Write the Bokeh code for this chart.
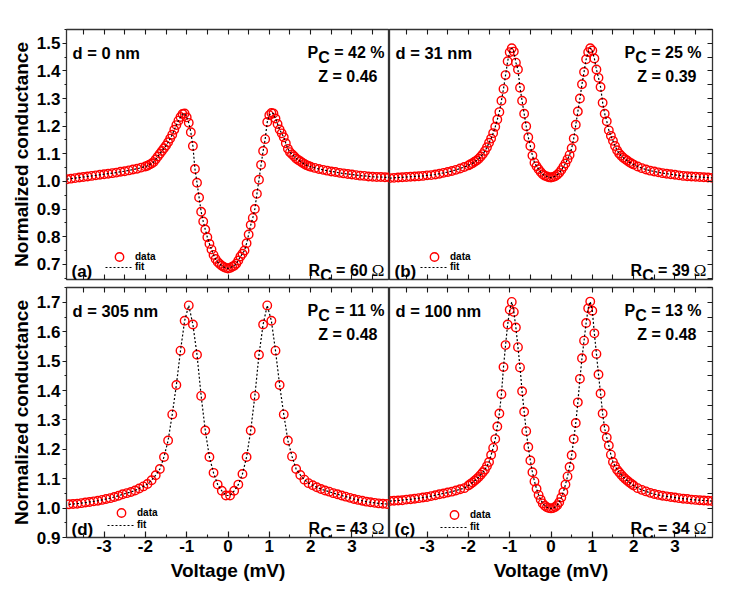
from bokeh.plotting import figure
from bokeh.models import (Range1d, LinearAxis, Label, Legend, LegendItem,
                          FixedTicker, PrintfTickFormatter)
from bokeh.layouts import column, row
from bokeh.embed import file_html
from bokeh.resources import INLINE

# ---------------- data ----------------
volt_abc = [-3.9, -3.8, -3.7, -3.6, -3.5, -3.4, -3.3, -3.2, -3.1, -3.0,
            -2.9, -2.8, -2.7, -2.6, -2.5, -2.4, -2.3, -2.2, -2.1,
            -2.0, -1.95, -1.9, -1.85, -1.8, -1.75, -1.7, -1.65, -1.6, -1.55,
            -1.5, -1.45, -1.4, -1.35, -1.3, -1.25, -1.2, -1.15, -1.1, -1.05,
            -1.0, -0.95, -0.9, -0.85, -0.8, -0.75, -0.7, -0.65, -0.6, -0.55,
            -0.5, -0.45, -0.4, -0.35, -0.3, -0.25, -0.2, -0.15, -0.1, -0.05,
            0.0,
            0.05, 0.1, 0.15, 0.2, 0.25, 0.3, 0.35, 0.4, 0.45, 0.5,
            0.55, 0.6, 0.65, 0.7, 0.75, 0.8, 0.85, 0.9, 0.95, 1.0,
            1.05, 1.1, 1.15, 1.2, 1.25, 1.3, 1.35, 1.4, 1.45, 1.5,
            1.55, 1.6, 1.65, 1.7, 1.75, 1.8, 1.85, 1.9, 1.95, 2.0,
            2.1, 2.2, 2.3, 2.4, 2.5, 2.6, 2.7, 2.8, 2.9, 3.0,
            3.1, 3.2, 3.3, 3.4, 3.5, 3.6, 3.7, 3.8, 3.9]

cond_a = [1.008, 1.010, 1.012, 1.014, 1.016, 1.018, 1.020, 1.022, 1.024, 1.026,
          1.028, 1.030, 1.032, 1.035, 1.037, 1.040, 1.043, 1.046, 1.050,
          1.054, 1.057, 1.061, 1.065, 1.070, 1.080, 1.090, 1.100, 1.110, 1.120,
          1.130, 1.142, 1.155, 1.169, 1.187, 1.204, 1.220, 1.233, 1.244, 1.246,
          1.232, 1.212, 1.178, 1.128, 1.045, 0.995, 0.942, 0.890, 0.855, 0.826,
          0.798, 0.774, 0.754, 0.734, 0.719, 0.708, 0.701, 0.695, 0.690, 0.687,
          0.685,
          0.687, 0.691, 0.695, 0.702, 0.714, 0.728, 0.738, 0.750, 0.776, 0.808,
          0.842, 0.868, 0.900, 0.955, 1.006, 1.060, 1.110, 1.153, 1.215, 1.240,
          1.248, 1.246, 1.228, 1.208, 1.188, 1.174, 1.160, 1.138, 1.118, 1.106,
          1.098, 1.091, 1.083, 1.078, 1.073, 1.068, 1.063, 1.059, 1.056, 1.053,
          1.049, 1.045, 1.042, 1.039, 1.036, 1.034, 1.031, 1.029, 1.027, 1.025,
          1.023, 1.021, 1.020, 1.018, 1.017, 1.016, 1.016, 1.015, 1.015]

cond_b = [1.012, 1.013, 1.014, 1.015, 1.016, 1.017, 1.018, 1.019, 1.020, 1.022,
          1.023, 1.025, 1.028, 1.031, 1.034, 1.038, 1.042, 1.047, 1.052,
          1.058, 1.062, 1.066, 1.071, 1.076, 1.082, 1.090, 1.099, 1.110, 1.124,
          1.140, 1.155, 1.175, 1.198, 1.224, 1.251, 1.292, 1.335, 1.385, 1.435,
          1.468, 1.482, 1.470, 1.430, 1.405, 1.339, 1.292, 1.245, 1.200, 1.160,
          1.128, 1.094, 1.068, 1.055, 1.044, 1.034, 1.026, 1.021, 1.018, 1.015,
          1.014,
          1.016, 1.019, 1.024, 1.031, 1.041, 1.053, 1.065, 1.080, 1.096, 1.120,
          1.155, 1.205, 1.253, 1.300, 1.352, 1.396, 1.442, 1.468, 1.482, 1.474,
          1.445, 1.405, 1.375, 1.342, 1.285, 1.245, 1.218, 1.185, 1.165, 1.147,
          1.128, 1.113, 1.101, 1.093, 1.086, 1.080, 1.075, 1.069, 1.065, 1.061,
          1.054, 1.048, 1.043, 1.039, 1.036, 1.033, 1.030, 1.028, 1.026, 1.024,
          1.022, 1.020, 1.019, 1.018, 1.017, 1.016, 1.015, 1.014, 1.013]

cond_c = [1.024, 1.025, 1.026, 1.027, 1.029, 1.030, 1.032, 1.034, 1.036, 1.038,
          1.041, 1.044, 1.047, 1.050, 1.053, 1.056, 1.060, 1.064, 1.068,
          1.077, 1.082, 1.087, 1.093, 1.099, 1.106, 1.114, 1.122, 1.131, 1.143,
          1.157, 1.181, 1.205, 1.235, 1.278, 1.322, 1.388, 1.480, 1.555, 1.625,
          1.675, 1.702, 1.668, 1.615, 1.548, 1.479, 1.398, 1.328, 1.262, 1.208,
          1.162, 1.122, 1.091, 1.066, 1.045, 1.029, 1.016, 1.008, 1.003, 1.000,
          0.999,
          1.000, 1.004, 1.010, 1.020, 1.036, 1.055, 1.080, 1.108, 1.140, 1.180,
          1.235, 1.290, 1.360, 1.440, 1.510, 1.570, 1.630, 1.680, 1.703, 1.672,
          1.595, 1.525, 1.455, 1.390, 1.322, 1.270, 1.240, 1.213, 1.182, 1.157,
          1.143, 1.131, 1.122, 1.114, 1.106, 1.099, 1.093, 1.087, 1.082, 1.077,
          1.068, 1.062, 1.057, 1.052, 1.048, 1.045, 1.042, 1.040, 1.038, 1.036,
          1.034, 1.032, 1.031, 1.029, 1.028, 1.027, 1.026, 1.025, 1.024]

volt_d = [-3.85, -3.75, -3.65, -3.55, -3.45, -3.35, -3.25, -3.15, -3.05, -2.95,
          -2.85, -2.75, -2.65, -2.55, -2.45, -2.35, -2.25, -2.15, -2.05,
          -1.95, -1.85, -1.75, -1.65, -1.55, -1.45, -1.35, -1.25, -1.15, -1.05,
          -0.95, -0.85, -0.75, -0.65, -0.55, -0.45, -0.35, -0.25, -0.15, -0.05,
          0.05, 0.15, 0.25, 0.35, 0.45, 0.55, 0.65, 0.75, 0.85, 0.95,
          1.05, 1.15, 1.25, 1.35, 1.45, 1.55, 1.65, 1.75, 1.85, 1.95,
          2.05, 2.15, 2.25, 2.35, 2.45, 2.55, 2.65, 2.75, 2.85, 2.95,
          3.05, 3.15, 3.25, 3.35, 3.45, 3.55, 3.65, 3.75, 3.85]

cond_d = [1.013, 1.014, 1.015, 1.017, 1.019, 1.021, 1.023, 1.025, 1.028, 1.031,
          1.034, 1.038, 1.042, 1.047, 1.051, 1.055, 1.060, 1.067, 1.074,
          1.082, 1.095, 1.112, 1.133, 1.174, 1.230, 1.319, 1.419, 1.536, 1.638,
          1.690, 1.625, 1.522, 1.382, 1.264, 1.174, 1.120, 1.080, 1.059, 1.043,
          1.043, 1.059, 1.080, 1.116, 1.174, 1.264, 1.382, 1.522, 1.625, 1.690,
          1.638, 1.536, 1.419, 1.319, 1.230, 1.176, 1.133, 1.113, 1.097, 1.085,
          1.078, 1.071, 1.065, 1.060, 1.056, 1.051, 1.047, 1.043, 1.039, 1.035,
          1.031, 1.028, 1.025, 1.022, 1.020, 1.018, 1.016, 1.015, 1.014]

x_major = [-3, -2, -1, 0, 1, 2, 3]
x_minor = [-3.5, -2.5, -1.5, -0.5, 0.5, 1.5, 2.5, 3.5]
y_top_major = [0.7, 0.8, 0.9, 1.0, 1.1, 1.2, 1.3, 1.4, 1.5]
y_top_minor = [0.65, 0.75, 0.85, 0.95, 1.05, 1.15, 1.25, 1.35, 1.45, 1.55]
y_bot_major = [0.9, 1.0, 1.1, 1.2, 1.3, 1.4, 1.5, 1.6, 1.7]
y_bot_minor = [0.95, 1.05, 1.15, 1.25, 1.35, 1.45, 1.55, 1.65, 1.75]

x_range = (-3.91, 3.91)
y_range_top = (0.645, 1.550)
y_range_bot = (0.90, 1.751)

FONT = "Liberation Sans"
FW, FH = 323, 250
INK = "#1a1a1a"


def add_axis(p, side, ticks, minor, fmt, labels, tick_in, tick_out,
             axis_label=None, label_standoff=5):
    if labels:
        ticker = FixedTicker(ticks=ticks, minor_ticks=minor)
    else:
        # unlabeled side: every tick drawn as a (label-free) minor tick
        ticker = FixedTicker(ticks=[], minor_ticks=sorted(ticks + minor))
    ax = LinearAxis(ticker=ticker, formatter=PrintfTickFormatter(format=fmt))
    ax.axis_line_color = None
    ax.major_tick_line_color = INK
    ax.minor_tick_line_color = INK
    ax.major_tick_line_width = 1.2
    ax.minor_tick_line_width = 1.1
    ax.major_tick_in = tick_in
    ax.major_tick_out = tick_out
    if labels:
        ax.minor_tick_in = tick_in // 2
        ax.minor_tick_out = tick_out // 2
        ax.major_label_text_font = FONT
        ax.major_label_text_font_style = "bold"
        ax.major_label_text_font_size = "17px"
        ax.major_label_text_color = "black"
        ax.major_label_standoff = 2
    else:
        ax.minor_tick_in = tick_in
        ax.minor_tick_out = tick_out
    if axis_label:
        ax.axis_label = axis_label
        ax.axis_label_text_font = FONT
        ax.axis_label_text_font_style = "bold"
        ax.axis_label_text_font_size = "19px"
        ax.axis_label_text_color = "black"
        ax.axis_label_standoff = label_standoff
    p.add_layout(ax, side)
    return ax


def panel(volt, cond, yr, ymaj, ymin, is_left, is_top, txt):
    width = 389 if is_left else 349
    height = 283 if is_top else 306
    p = figure(width=width, height=height,
               x_range=Range1d(*x_range), y_range=Range1d(*yr),
               x_axis_location=None, y_axis_location=None,
               output_backend="svg", toolbar_location=None,
               min_border_left=66 if is_left else 0,
               min_border_right=0 if is_left else 26,
               min_border_top=29 if is_top else 4,
               min_border_bottom=4 if is_top else 52)
    p.grid.visible = False
    p.outline_line_color = "#333333"
    p.outline_line_width = 1.3
    p.background_fill_color = "white"
    p.border_fill_color = "white"

    # axes
    add_axis(p, "above", x_major, x_minor, "%d", False, 5, 0)
    if is_top:
        add_axis(p, "below", x_major, x_minor, "%d", False, 5, 0)
    else:
        add_axis(p, "below", x_major, x_minor, "%d", True, 6, 0, "Voltage (mV)")
    if is_left:
        add_axis(p, "left", ymaj, ymin, "%.1f", True, 0, 4,
                 "Normalized conductance", label_standoff=2)
    else:
        add_axis(p, "right", ymaj, ymin, "%.1f", False, 5, 0)

    # data + fit
    r_data = p.scatter(volt, cond, marker="circle", size=8.5, fill_color=None,
                       line_color="#ff0000", line_width=1.4)
    r_fit = p.line(volt, cond, line_color="black", line_dash="2 2", line_width=1.2)

    # legends (two, so the circle can be large above the dotted line)
    lx, dy, fy_ = txt["legend"]
    for item, gh, yloc in ((LegendItem(label="data", renderers=[r_data]), 21, dy - 10.5),
                           (LegendItem(label="fit", renderers=[r_fit]), 10, fy_ - 5)):
        lg = Legend(items=[item], location=(lx, yloc), orientation="vertical",
                    glyph_width=28, glyph_height=gh, label_height=gh,
                    label_standoff=2, spacing=0, padding=0, margin=0,
                    border_line_color=None, background_fill_alpha=0,
                    label_text_font=FONT, label_text_font_style="bold",
                    label_text_font_size="10px", label_text_color="black")
        p.add_layout(lg)

    # helpers from frame pixels to data coordinates
    def fx(px):
        return x_range[0] + px / FW * (x_range[1] - x_range[0])

    def fy(py):
        return yr[1] - py / FH * (yr[1] - yr[0])

    def lab(x, y, text, align, xoff=0, size="16px", font=FONT, style="bold"):
        p.add_layout(Label(x=x, y=y, text=text, x_offset=xoff, text_align=align,
                           text_baseline="alphabetic", text_font=font,
                           text_font_style=style, text_font_size=size,
                           text_color="black"))

    pr, zr, rr = txt["right"]
    # d = ...
    lab(fx(6), fy(23), txt["d"], "left", size="16.5px")
    # P_C = ..
    lab(fx(pr), fy(23), "= " + txt["pc"], "right")
    lab(fx(pr), fy(27.5), "C", "right", xoff=-54.7)
    lab(fx(pr), fy(23), "P", "right", xoff=-66.3)
    # Z = ..
    lab(fx(zr), fy(47), "Z = " + txt["z"], "right")
    # R_C = .. Ω
    lab(fx(rr), fy(241), "\u03a9", "right", font="Liberation Serif", style="normal", size="17px")
    lab(fx(rr), fy(241), "= " + txt["rc"], "right", xoff=-16.8)
    lab(fx(rr), fy(245.5), "C", "right", xoff=-52.8)
    lab(fx(rr), fy(241), "R", "right", xoff=-64.4)
    # panel tag
    lab(fx(5), fy(242), txt["tag"], "left", size="17px")
    return p


pa = panel(volt_abc, cond_a, y_range_top, y_top_major, y_top_minor, True, True,
           dict(d="d = 0 nm", pc="42 %", z="0.46", rc="60", tag="(a)",
                right=(318, 311, 318), legend=(39, 23, 12)))
pb = panel(volt_abc, cond_b, y_range_top, y_top_major, y_top_minor, False, True,
           dict(d="d = 31 nm", pc="25 %", z="0.39", rc="39", tag="(b)",
                right=(312, 307, 317), legend=(31, 23, 12)))
pd = panel(volt_d, cond_d, y_range_bot, y_bot_major, y_bot_minor, True, False,
           dict(d="d = 305 nm", pc="11 %", z="0.48", rc="43", tag="(d)",
                right=(318, 311, 318), legend=(41, 25, 12)))
pc = panel(volt_abc, cond_c, y_range_bot, y_bot_major, y_bot_minor, False, False,
           dict(d="d = 100 nm", pc="13 %", z="0.48", rc="34", tag="(c)",
                right=(312, 307, 317), legend=(51, 23, 10)))

layout = column(row(pa, pb, spacing=0), row(pd, pc, spacing=0), spacing=0)

with open("out.html", "w") as f:
    f.write(file_html(layout, INLINE))
